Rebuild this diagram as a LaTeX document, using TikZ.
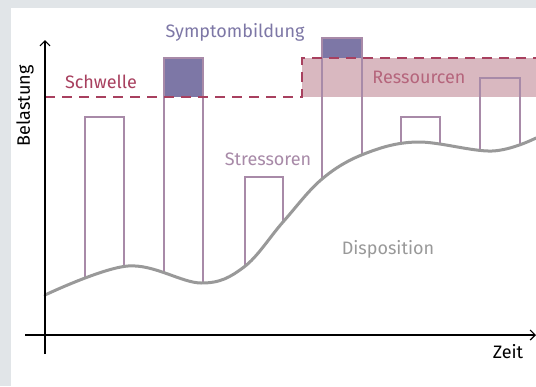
\documentclass[tikz,border=0pt]{standalone}
\usepackage{fontspec}
\setmainfont{Fira Sans}
\usetikzlibrary{arrows.meta}
\definecolor{bggrey}{HTML}{E1E5E8}
\definecolor{barcol}{HTML}{A88AA8}
\definecolor{symcol}{HTML}{7D77A6}
\definecolor{thrcol}{HTML}{A8405F}
\definecolor{bandcol}{HTML}{D9B8C0}
\definecolor{rescol}{HTML}{B5657C}
\definecolor{curvecol}{HTML}{999999}
\tikzset{
  barline/.style={draw=barcol, line width=1.4pt},
  thrline/.style={draw=thrcol, line width=1.8pt, dash pattern=on 10pt off 7pt},
  axisline/.style={draw=black, line width=1.2pt},
  lbl/.style={font=\fontsize{18}{21}\selectfont, inner sep=0pt},
}
\def\dispcurve{plot[smooth, tension=0.6] coordinates {(45,295) (128,266) (201,283) (244,267) (283,222) (322,179) (364,154) (417,142) (492,151) (536,138)}}
\begin{document}
\begin{tikzpicture}[x=1pt,y=-1pt]
\useasboundingbox (0,0) rectangle (536,386);
\fill[bggrey] (0,0) rectangle (536,386);
\fill[white] (11,8) rectangle (536,386);
% band
\fill[bandcol] (302,58) rectangle (536,97);
% symptom fills
\fill[symcol] (164,58) rectangle (203,97);
\fill[symcol] (322,38) rectangle (362,58);
% bars, clipped above the curve
\begin{scope}
\clip \dispcurve -- (536,0) -- (45,0) -- cycle;
\draw[barline] (85,320) |- (124,117) -- (124,320);
\draw[barline] (164,320) |- (203,58) -- (203,320);
\draw[barline] (245,320) |- (283,177) -- (283,320);
\draw[barline] (322,320) |- (362,38) -- (362,320);
\draw[barline] (401,320) |- (440,117) -- (440,320);
\draw[barline] (480,320) |- (520,78) -- (520,320);
\end{scope}
% threshold
\coordinate (t0) at (45,97);
\coordinate (t1) at (302,97);
\coordinate (t2) at (302,58);
\coordinate (t3) at (536,58);
\draw[thrline] (t0) -- (t1) -- (t2) -- (t3);
% curve
\draw[curvecol, line width=3pt, line cap=round] \dispcurve;
% axes
\coordinate (yb) at (45,354);
\coordinate (yt) at (45,40);
\coordinate (xl) at (25,335);
\coordinate (xr) at (536,335);
\draw[axisline, -{Straight Barb[length=5pt,width=10pt]}] (yb) -- (yt);
\draw[axisline, -{Straight Barb[length=5pt,width=10pt]}] (xl) -- (xr);
% labels
\node[lbl, rotate=90] (belast) at (25,106) {Belastung};
\node[lbl] (zeit) at (508,352) {Zeit};
\node[lbl, text=thrcol] (schw) at (101,82) {Schwelle};
\node[lbl, text=symcol] (symp) at (235,32) {Symptombildung};
\node[lbl, text=rescol] (ress) at (419,77) {Ressourcen};
\node[lbl, text=barcol] (stress) at (268,159) {Stressoren};
\node[lbl, text=curvecol] (disp) at (388,249) {Disposition};
\end{tikzpicture}
\end{document}
